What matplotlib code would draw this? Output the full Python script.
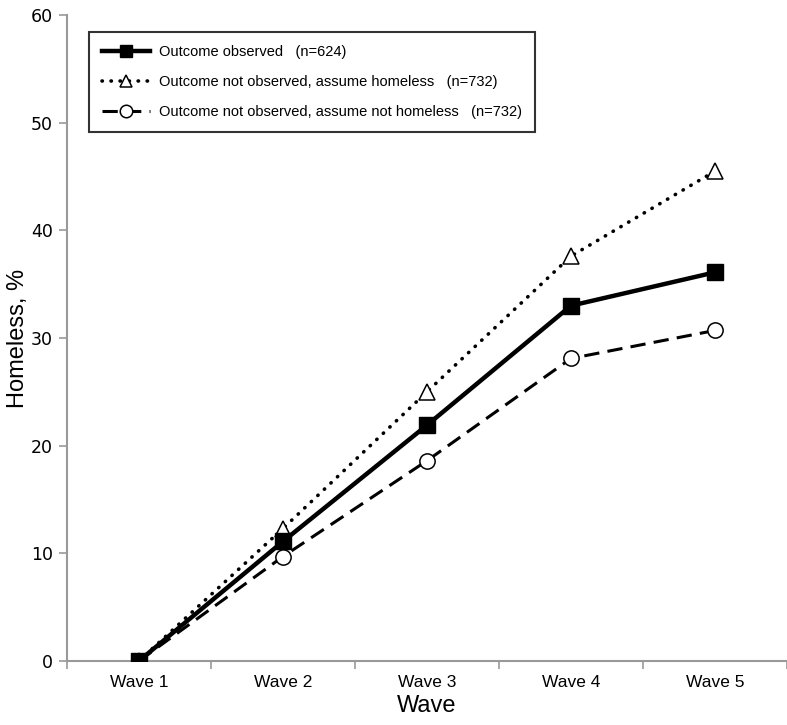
import numpy as np
import matplotlib
matplotlib.use("Agg")
import matplotlib.pyplot as plt
from matplotlib.ticker import FixedLocator

#%% DATA
waves = ["Wave 1", "Wave 2", "Wave 3", "Wave 4", "Wave 5"]
observed = [0, 11.1, 21.9, 33.0, 36.1]
assume_homeless = [0, 12.3, 25.0, 37.6, 45.5]
assume_not_homeless = [0, 9.7, 18.6, 28.1, 30.7]

labels = ["Outcome observed   (n=624)",
          "Outcome not observed, assume homeless   (n=732)",
          "Outcome not observed, assume not homeless   (n=732)"]

#%% PLOT
narrow = ["Liberation Sans", "DejaVu Sans"]
fig = plt.figure(figsize=(7.87, 7.25), dpi=100)
ax = fig.add_axes([0.085, 0.0883, 0.915, 0.8910])
x = np.arange(1, len(waves) + 1)

ax.plot(x, observed, color="black", lw=3.2, marker="s", ms=12,
        mfc="black", mec="black", label=labels[0], zorder=4)
ax.plot(x, assume_homeless, color="black", lw=2.6, ls=(0, (0.1, 2.4)),
        dash_capstyle="round", marker="^", ms=11, mfc="white", mec="black",
        mew=1.1, label=labels[1], zorder=3)
ax.plot(x, assume_not_homeless, color="black", lw=2.2, ls=(0, (5, 2.7)), marker="o",
        ms=11, mfc="white", mec="black", mew=1.1, label=labels[2], zorder=3)

ax.set_xlim(0.5, 5.5)
ax.set_ylim(0, 60)
ax.set_xticks(x)
ax.set_xticklabels(waves, family=narrow, fontsize=12.5)
ax.xaxis.set_minor_locator(FixedLocator(np.arange(0.5, 5.6, 1)))
ax.tick_params(axis="x", which="major", length=0, pad=10)
ax.tick_params(axis="x", which="minor", length=6, color="#999999", width=1.2)
ax.set_yticks(np.arange(0, 61, 10))
ax.tick_params(axis="y", length=6, color="#999999", width=1.2, labelsize=12.5, pad=4)

for s in ["top", "right"]:
    ax.spines[s].set_visible(False)
for s in ["left", "bottom"]:
    ax.spines[s].set_color("#999999")
    ax.spines[s].set_linewidth(1.5)

ax.set_ylabel("Homeless, %", family=narrow, fontsize=17)
ax.yaxis.set_label_coords(-0.052, 0.5)
ax.set_xlabel("Wave", family=narrow, fontsize=17, labelpad=4)

leg = ax.legend(loc="upper left", bbox_to_anchor=(0.02, 0.985), frameon=True,
                fancybox=False, edgecolor="black", handlelength=3.3,
                handletextpad=0.6, borderpad=0.9, labelspacing=1.1,
                prop={"family": narrow, "size": 10.5})
leg.get_frame().set_linewidth(1.5)
for h in leg.legend_handles:
    h.set_markersize(9)

fig.savefig("out.png", dpi=100)
